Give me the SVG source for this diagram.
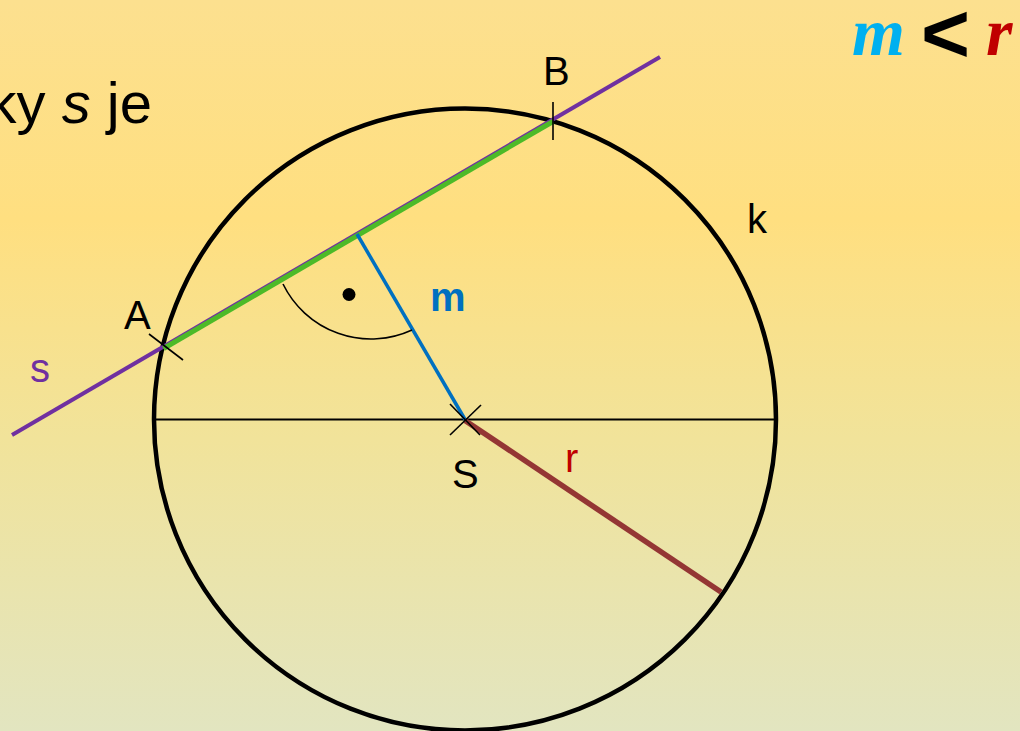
<svg xmlns="http://www.w3.org/2000/svg" width="1020" height="731" viewBox="0 0 1020 731">
<defs>
<linearGradient id="bg" x1="0" y1="0" x2="0" y2="1">
<stop offset="0" stop-color="#FCE08F"/>
<stop offset="0.3" stop-color="#FFDF80"/>
<stop offset="0.6" stop-color="#F1E39A"/>
<stop offset="1" stop-color="#E2E5C0"/>
</linearGradient>
<style>
.lbl{font-family:"Liberation Sans","Noto Sans",Arial,sans-serif;font-size:40px;fill:#000}
.thin{stroke:#000;stroke-width:1.6;fill:none}
</style>
</defs>
<rect width="1020" height="731" fill="url(#bg)"/>
<text x="152" y="123" text-anchor="end" font-family="Liberation Sans, Arial, sans-serif" font-size="58" fill="#000">ky <tspan font-style="italic">s</tspan> je</text>
<g id="formula">
<text x="852" y="55" font-family="Liberation Serif, Times New Roman, serif" font-size="68" font-weight="bold" font-style="italic" fill="#00B0F0">m</text>
<text x="921" y="62" font-family="Liberation Sans, Arial, sans-serif" font-size="84" font-weight="bold" fill="#000">&lt;</text>
<text x="986" y="55" font-family="Liberation Serif, Times New Roman, serif" font-size="68" font-weight="bold" font-style="italic" fill="#C00000">r</text>
</g>
<g id="circle-k">
<circle cx="465" cy="419.5" r="311" fill="none" stroke="#000" stroke-width="4.5"/>
</g>
<g id="connectors">
<line id="diameter" x1="154" y1="419.5" x2="776" y2="419.5" stroke="#000" stroke-width="2"/>
<line id="line-s" x1="12" y1="435" x2="660" y2="57" stroke="#7030A0" stroke-width="4"/>
<line id="chord-AB" x1="163.5" y1="348.5" x2="553" y2="121.5" stroke="#4DBA28" stroke-width="5"/>
<line id="seg-m" x1="357" y1="234" x2="465" y2="419.5" stroke="#0070C0" stroke-width="3.5"/>
<line id="seg-r" x1="465" y1="420.5" x2="721" y2="592" stroke="#943634" stroke-width="5.5"/>
<path id="right-angle" class="thin" d="M283,284 A98,98 0 0 0 412,330"/>
<circle cx="349" cy="294.5" r="6.5" fill="#000"/>
<line class="thin" x1="149" y1="334" x2="183" y2="360"/>
<line class="thin" x1="553" y1="102" x2="553" y2="140"/>
<line class="thin" x1="450" y1="404" x2="480" y2="435"/>
<line class="thin" x1="450" y1="435" x2="481" y2="405"/>
</g>
<g id="label-A"><text class="lbl" x="124" y="329">A</text></g>
<g id="label-B"><text class="lbl" x="543" y="85">B</text></g>
<g id="label-k"><text class="lbl" x="747" y="233" font-size="44">k</text></g>
<g id="label-S"><text class="lbl" x="452" y="488">S</text></g>
<g id="label-r"><text class="lbl" x="565" y="472" font-size="44" style="fill:#C00000">r</text></g>
<g id="label-m"><text class="lbl" x="430" y="311" font-size="44" font-weight="bold" style="fill:#0070C0">m</text></g>
<g id="label-s"><text class="lbl" x="30" y="382" font-size="44" style="fill:#7030A0">s</text></g>
</svg>
